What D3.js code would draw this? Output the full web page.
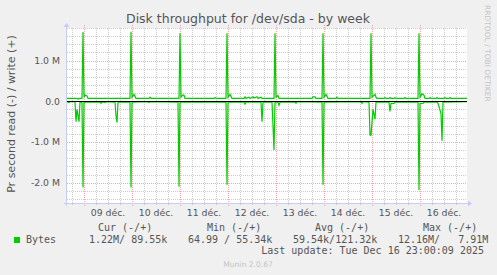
<!DOCTYPE html>
<html>
<head>
<meta charset="utf-8">
<script src="https://cdn.jsdelivr.net/npm/d3@7"></script>
<style>
  body { margin: 0; background: #f0f0f0; }
  text { font-family: "DejaVu Sans", sans-serif; fill: #555; }
  .mono { font-family: "DejaVu Sans Mono", monospace; font-size: 10px; white-space: pre; }
</style>
</head>
<body>
<script>
// times are hours since 08 Dec 00:00, values in M bytes per second
var writeHours = [15.5, 20.5, 21.0, 21.5, 23.0, 23.5, 24.0, 24.5, 25.5, 26.0,
  47.0, 47.5, 48.0, 49.0, 49.5, 50.0, 56.5, 57.0, 57.5,
  71.5, 72.0, 72.5, 73.5, 74.0, 74.5, 89.0, 89.5, 90.0,
  95.0, 95.5, 96.0, 97.0, 97.5, 98.0,
  104.0, 104.5, 105.0, 106.5, 107.0, 108.5, 109.0, 110.5, 111.0, 112.5, 113.0,
  119.0, 119.5, 120.0, 121.0, 121.5, 138.0, 138.5, 139.5, 140.0,
  143.0, 143.5, 144.0, 145.0, 145.5, 146.0, 150.0, 150.5, 151.0,
  167.0, 167.5, 168.0, 169.5, 170.0, 170.5,
  174.0, 174.5, 175.0, 176.5, 177.0, 177.5, 179.0, 179.5, 180.0, 184.0, 184.5, 185.0,
  191.0, 191.5, 192.0, 193.0, 194.0, 194.5,
  196.5, 197.0, 197.5, 200.0, 200.5, 201.0, 204.0, 204.5, 205.0, 206.5, 207.0, 207.5, 215.5];
var writeValues = [0.07, 0.07, 0.05, 0.07, 0.07, 1.70, 0.10, 0.155, 0.13, 0.07,
  0.07, 1.71, 0.10, 0.17, 0.12, 0.07, 0.07, 0.10, 0.07,
  0.07, 1.67, 0.10, 0.155, 0.15, 0.07, 0.07, 0.09, 0.07,
  0.07, 1.67, 0.10, 0.17, 0.12, 0.07,
  0.07, 0.11, 0.07, 0.10, 0.07, 0.11, 0.08, 0.11, 0.07, 0.10, 0.07,
  0.07, 1.67, 0.10, 0.14, 0.07, 0.07, 0.11, 0.11, 0.07,
  0.07, 1.67, 0.10, 0.17, 0.12, 0.07, 0.07, 0.10, 0.07,
  0.07, 1.67, 0.10, 0.17, 0.10, 0.07,
  0.07, 0.09, 0.07, 0.07, 0.09, 0.07, 0.07, 0.09, 0.07, 0.07, 0.09, 0.07,
  0.07, 1.67, 0.10, 0.18, 0.15, 0.07,
  0.07, 0.09, 0.07, 0.07, 0.09, 0.07, 0.07, 0.09, 0.07, 0.07, 0.09, 0.07, 0.07];

var readHours = [15.5, 16.5, 17.0, 19.5, 20.0, 20.5, 21.5, 22.0, 23.0, 23.5, 24.0,
  32.0, 32.5, 33.0, 34.0, 34.5, 35.0, 39.5, 40.0, 40.5, 41.0,
  47.0, 47.5, 48.0, 56.0, 56.5, 57.0, 71.0, 71.5, 72.0,
  95.0, 95.5, 96.0, 104.0, 104.5, 105.0, 112.5, 113.0, 113.5,
  118.0, 118.5, 119.0, 119.5, 121.0, 121.5, 122.0, 129.5, 130.0, 130.5,
  143.0, 143.5, 144.0, 162.5, 163.0, 163.5,
  166.5, 167.0, 167.5, 168.5, 169.5, 170.0, 176.5, 177.0, 177.5, 179.0, 179.5,
  191.0, 191.5, 192.0, 193.5, 194.0, 200.5, 201.0, 202.5, 203.0, 203.5, 215.5];
var readValues = [-0.01, -0.03, -0.01, -0.01, -0.50, -0.20, -0.50, -0.02, -0.02, -2.12, -0.02,
  -0.02, -0.05, -0.02, -0.02, -0.03, -0.01, -0.02, -0.35, -0.52, -0.02,
  -0.02, -2.12, -0.02, -0.01, -0.03, -0.01, -0.02, -2.10, -0.02,
  -0.02, -2.05, -0.02, -0.02, -0.07, -0.02, -0.02, -0.50, -0.02,
  -0.02, -0.60, -1.20, -0.02, -0.02, -0.10, -0.02, -0.02, -0.05, -0.01,
  -0.02, -2.05, -0.02, -0.01, -0.05, -0.01,
  -0.02, -0.83, -0.83, -0.20, -0.44, -0.02, -0.02, -0.25, -0.05, -0.05, -0.02,
  -0.02, -2.18, -0.05, -0.05, -0.02, -0.02, -0.05, -0.30, -0.97, -0.02, -0.01];

var dayLabels = ["09 déc.", "10 déc.", "11 déc.", "12 déc.", "13 déc.", "14 déc.", "15 déc.", "16 déc."];
var yTicks = [1, 0, -1, -2];
var yTickLabels = ["1.0 M", "0.0", "-1.0 M", "-2.0 M"];
var legendHeads = ["Cur (-/+)", "Min (-/+)", "Avg (-/+)", "Max (-/+)"];
var legendValues = ["1.22M/ 89.55k", "64.99 / 55.34k", "59.54k/121.32k", "12.16M/   7.91M"];

var W = 497, H = 275;
var plot = {left: 67, right: 467, top: 28, bottom: 203};

var t0 = Date.UTC(2025, 11, 8);
function toDate(h) { return new Date(t0 + h * 3600e3); }

var svg = d3.select("body").append("svg")
    .attr("width", W)
    .attr("height", H);

svg.append("rect").attr("width", W).attr("height", H).attr("fill", "#f0f0f0");
svg.append("rect")
    .attr("x", plot.left).attr("y", plot.top)
    .attr("width", plot.right - plot.left).attr("height", plot.bottom - plot.top)
    .attr("fill", "#fff");

var x = d3.scaleUtc()
    .domain([toDate(15.5), toDate(215.5)])
    .range([plot.left, plot.right]);

var y = d3.scaleLinear()
    .domain([-2.5, 1.8])
    .range([plot.bottom, plot.top]);

function px(v) { return Math.round(v) + 0.5; }

// minor grid
var minorY = d3.range(-12, 10).map(function(i) { return i / 5; })
  .filter(function(v) { return Math.abs(v - Math.round(v)) > 1e-6; });
svg.append("g").selectAll("line")
  .data(minorY)
  .enter().append("line")
    .attr("x1", plot.left).attr("x2", plot.right)
    .attr("y1", function(d) { return px(y(d)); })
    .attr("y2", function(d) { return px(y(d)); })
    .attr("stroke", "rgba(170,170,170,0.6)")
    .attr("stroke-dasharray", "1,1");

var minorX = x.ticks(d3.utcHour.every(6)).filter(function(d) { return d.getUTCHours() != 0; });
svg.append("g").selectAll("line")
  .data(minorX)
  .enter().append("line")
    .attr("x1", function(d) { return px(x(d)); })
    .attr("x2", function(d) { return px(x(d)); })
    .attr("y1", plot.top).attr("y2", plot.bottom + 3)
    .attr("stroke", "rgba(170,170,170,0.6)")
    .attr("stroke-dasharray", "1,1");

// major grid
svg.append("g").selectAll("line")
  .data(yTicks)
  .enter().append("line")
    .attr("x1", plot.left).attr("x2", plot.right)
    .attr("y1", function(d) { return px(y(d)); })
    .attr("y2", function(d) { return px(y(d)); })
    .attr("stroke", "rgba(240,110,110,0.6)")
    .attr("stroke-dasharray", "1,1");

var days = x.ticks(d3.utcDay.every(1));
svg.append("g").selectAll("line")
  .data(days)
  .enter().append("line")
    .attr("x1", function(d) { return px(x(d)); })
    .attr("x2", function(d) { return px(x(d)); })
    .attr("y1", plot.top - 3).attr("y2", plot.bottom + 4)
    .attr("stroke", "rgba(240,110,110,0.6)")
    .attr("stroke-dasharray", "1,1");

// series
var line = d3.line()
    .x(function(d) { return x(toDate(d[0])); })
    .y(function(d) { return y(d[1]); });

svg.append("path")
    .datum(d3.zip(writeHours, writeValues))
    .attr("d", line)
    .attr("fill", "none")
    .attr("stroke", "#00cc00")
    .attr("stroke-width", 1.2);

svg.append("path")
    .datum(d3.zip(readHours, readValues))
    .attr("d", line)
    .attr("fill", "none")
    .attr("stroke", "#00cc00")
    .attr("stroke-width", 1.2);

// zero line
svg.append("line")
    .attr("x1", plot.left).attr("x2", plot.right)
    .attr("y1", px(y(0))).attr("y2", px(y(0)))
    .attr("stroke", "#000");

// axes
svg.append("line")
    .attr("x1", plot.left - 0.5).attr("x2", plot.left - 0.5)
    .attr("y1", plot.top - 1).attr("y2", plot.bottom + 3)
    .attr("stroke", "#c8ccf0");
svg.append("line")
    .attr("x1", plot.left - 3).attr("x2", plot.right + 1)
    .attr("y1", plot.bottom + 0.5).attr("y2", plot.bottom + 0.5)
    .attr("stroke", "#c8ccf0");
svg.append("path")
    .attr("d", "M" + (plot.left - 3.5) + "," + (plot.top - 1) + "L" + (plot.left - 0.5) + "," + (plot.top - 5) +
      "L" + (plot.left + 2.5) + "," + (plot.top - 1) + "Z")
    .attr("fill", "#c8ccf0");
svg.append("path")
    .attr("d", "M" + (plot.right + 1) + "," + (plot.bottom - 2.5) + "L" + (plot.right + 5) + "," + (plot.bottom + 0.5) +
      "L" + (plot.right + 1) + "," + (plot.bottom + 3.5) + "Z")
    .attr("fill", "#c8ccf0");

// tick labels
svg.append("g").selectAll("text")
  .data(yTicks)
  .enter().append("text")
    .attr("x", plot.left - 7)
    .attr("y", function(d) { return y(d) + 3.5; })
    .attr("text-anchor", "end")
    .style("font-size", "9.3px")
    .text(function(d, i) { return yTickLabels[i]; });

svg.append("g").selectAll("text")
  .data(days)
  .enter().append("text")
    .attr("x", function(d) { return x(d3.utcHour.offset(d, 12)); })
    .attr("y", 216)
    .attr("text-anchor", "middle")
    .style("font-size", "9.3px")
    .text(function(d, i) { return dayLabels[i]; });

// titles
svg.append("text")
    .attr("x", 248).attr("y", 23)
    .attr("text-anchor", "middle")
    .style("font-size", "12.5px")
    .text("Disk throughput for /dev/sda - by week");

svg.append("text")
    .attr("transform", "translate(15,114) rotate(-90)")
    .attr("text-anchor", "middle")
    .style("font-size", "11px")
    .text("Pr second read (-) / write (+)");

svg.append("text")
    .attr("transform", "translate(485,5) rotate(90)")
    .style("font-size", "7.5px")
    .style("fill", "#c4c4c4")
    .text("RRDTOOL / TOBI OETIKER");

// legend
var headX = [98, 207, 315, 423];
var valX = [89, 188, 293, 398];
svg.append("g").selectAll("text")
  .data(legendHeads)
  .enter().append("text")
    .attr("class", "mono")
    .attr("x", function(d, i) { return headX[i]; })
    .attr("y", 231)
    .text(function(d) { return d; });

svg.append("rect")
    .attr("x", 14).attr("y", 237)
    .attr("width", 6).attr("height", 6)
    .attr("fill", "#00cc00");
svg.append("text").attr("class", "mono").attr("x", 26).attr("y", 243).text("Bytes");

svg.append("g").selectAll("text")
  .data(legendValues)
  .enter().append("text")
    .attr("class", "mono")
    .attr("x", function(d, i) { return valX[i]; })
    .attr("y", 243)
    .text(function(d) { return d; });

svg.append("text")
    .attr("class", "mono")
    .attr("x", 484).attr("y", 254)
    .attr("text-anchor", "end")
    .text("Last update: Tue Dec 16 23:00:09 2025");

svg.append("text")
    .attr("x", 248).attr("y", 267)
    .attr("text-anchor", "middle")
    .style("font-size", "7.6px")
    .style("fill", "#c4c4c4")
    .text("Munin 2.0.67");
</script>
</body>
</html>
